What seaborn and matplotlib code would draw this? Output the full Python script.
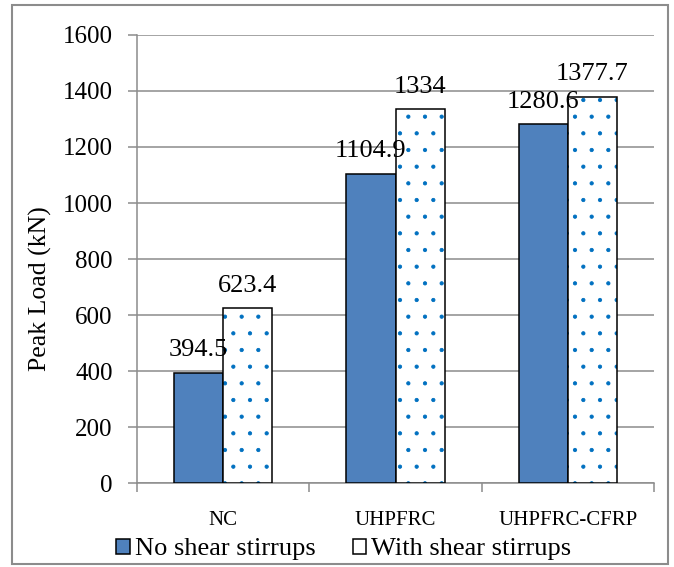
import matplotlib
matplotlib.use("Agg")
import matplotlib.pyplot as plt
from matplotlib.patches import Patch, Rectangle
from matplotlib.ticker import FixedLocator, MultipleLocator
import pandas as pd
import seaborn as sns

# Peak load per specimen type, with and without shear stirrups
specimens = ["NC", "UHPFRC", "UHPFRC-CFRP"]
no_stirrups = [394.5, 1104.9, 1280.6]
with_stirrups = [623.4, 1334, 1377.7]
series_names = ["No shear stirrups", "With shear stirrups"]

df = pd.DataFrame({
    "Specimen": specimens * 2,
    "Load": no_stirrups + with_stirrups,
    "Stirrups": [series_names[0]] * 3 + [series_names[1]] * 3,
})

sns.set_theme(style="white")
plt.rcParams["font.family"] = ["Liberation Serif", "DejaVu Serif"]
plt.rcParams["hatch.linewidth"] = 0.6
plt.rcParams["text.color"] = "black"
plt.rcParams["axes.labelcolor"] = "black"
plt.rcParams["xtick.labelcolor"] = "black"
plt.rcParams["ytick.labelcolor"] = "black"

BLUE = "#4F81BD"
DOT = "#0070C0"
GRID = "#8C8C8C"

fig = plt.figure(figsize=(6.74, 5.67), dpi=100)
ax = fig.add_axes([0.2033, 0.1481, 0.7670, 0.7902])

sns.barplot(data=df, x="Specimen", y="Load", hue="Stirrups",
            palette=[BLUE, "white"], saturation=1, width=0.57, gap=0,
            edgecolor="black", linewidth=1.1, legend=False, ax=ax, zorder=3)

# Dotted fill for the second series: hatch in blue, black outline on top
for bar in ax.containers[1]:
    bar.set_hatch(".")
    bar.set_edgecolor(DOT)
    bar.set_linewidth(0)
    ax.add_patch(Rectangle(bar.get_xy(), bar.get_width(), bar.get_height(),
                           fill=False, edgecolor="black", linewidth=1.1,
                           zorder=4))

# Value labels above each bar
for cont, vals in zip(ax.containers[:2], [no_stirrups, with_stirrups]):
    ax.bar_label(cont, labels=[f"{v:g}" for v in vals], padding=8.5,
                 fontsize=19, color="black", zorder=5)

ax.set_ylim(0, 1600)
ax.set_xlim(-0.5, 2.5)
ax.yaxis.set_major_locator(MultipleLocator(200))
ax.grid(axis="y", color=GRID, linewidth=1.1, zorder=0)
ax.set_axisbelow(True)

for side in ["top", "right"]:
    ax.spines[side].set_visible(False)
for side in ["left", "bottom"]:
    ax.spines[side].set_color(GRID)
    ax.spines[side].set_linewidth(1.1)

ax.tick_params(axis="y", which="major", direction="out", length=6.5,
               width=1.1, color=GRID, labelsize=18, pad=11, left=True)
ax.xaxis.set_minor_locator(FixedLocator([-0.5, 0.5, 1.5, 2.5]))
ax.tick_params(axis="x", which="minor", direction="out", length=6.5,
               width=1.1, color=GRID, bottom=True)
ax.tick_params(axis="x", which="major", length=0, labelsize=15, pad=20)

ax.set_xlabel("")
ax.set_ylabel("Peak Load (kN)", fontsize=18.5)
ax.yaxis.set_label_coords(-0.165, 0.433)

handles = [Patch(facecolor=BLUE, edgecolor="black", linewidth=1.1),
           Patch(facecolor="white", edgecolor="black", linewidth=1.1)]
fig.legend(handles, series_names, loc="center", bbox_to_anchor=(0.51, 0.031),
           ncol=2, frameon=False, fontsize=19, handlelength=0.5,
           handleheight=0.5, handletextpad=0.2, columnspacing=1.4,
           borderpad=0)

# Chart-area border
fig.patches.append(Rectangle((0.0178, 0.006), 0.973, 0.985,
                             transform=fig.transFigure, fill=False,
                             edgecolor=GRID, linewidth=1.5))

fig.savefig("out.png", dpi=100)
